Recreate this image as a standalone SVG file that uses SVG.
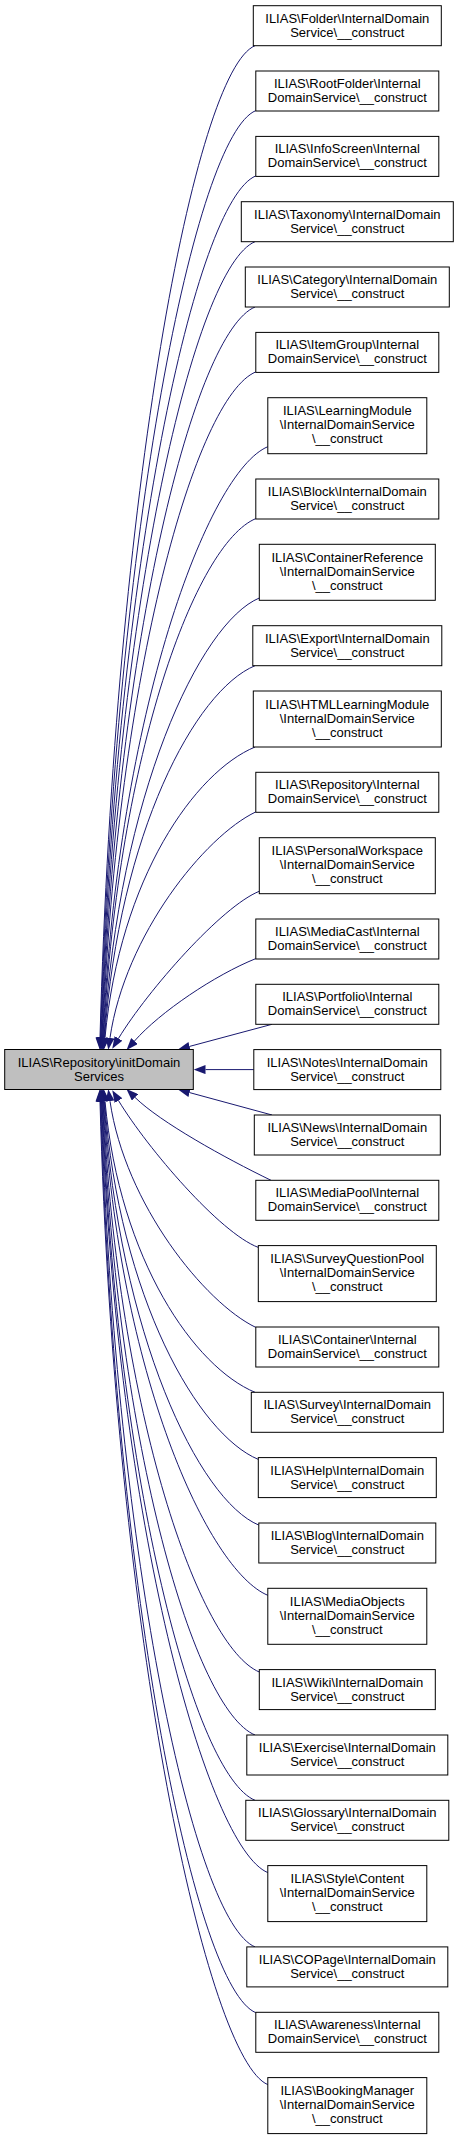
<svg xmlns="http://www.w3.org/2000/svg" width="459" height="2139" viewBox="0 0 459 2139">
<style>
.node rect{fill:#ffffff;stroke:#000000;stroke-width:1}
#n0 rect{fill:#bfbfbf}
.node text{font-family:"Liberation Sans",Arial,Helvetica,sans-serif;font-size:13px;text-anchor:middle;fill:#000000}
.edge{fill:none;stroke:#191970;stroke-width:1;marker-end:url(#arr)}
</style>
<defs>
<marker id="arr" markerUnits="userSpaceOnUse" markerWidth="12" markerHeight="9" viewBox="0 0 12 9" refX="0" refY="4.5" orient="auto"><path d="M0,0 L12,4.5 L0,9 Z" fill="#191970"/></marker>
</defs>
<rect width="459" height="2139" fill="#ffffff"/>
<g id="edges">
<path class="edge" d="M255,45.7 C195,70.7 115,492 100,1037.5"/>
<path class="edge" d="M255.8,110.6 C195.8,135.6 115.5,527.7 100.5,1037.5"/>
<path class="edge" d="M255.8,175.9 C195.8,200.9 116,563.6 101,1037.5"/>
<path class="edge" d="M255,241.7 C195,266.7 116.5,599.8 101.5,1037.5"/>
<path class="edge" d="M255,307 C195,332 117,635.7 102,1037.5"/>
<path class="edge" d="M255.8,371.9 C195.8,396.9 117.5,671.4 102.5,1037.5"/>
<path class="edge" d="M267.8,446.7 C207.8,471.7 118,712.6 103,1037.5"/>
<path class="edge" d="M255.8,518.6 C195.8,543.6 118.5,752.1 103.5,1037.5"/>
<path class="edge" d="M259.5,597.9 C199.5,622.9 119,795.7 104,1037.5"/>
<path class="edge" d="M255,665.7 C195,690.7 119.5,833 104.5,1037.5"/>
<path class="edge" d="M255,747 C195,772 120,877.7 105,1037.5"/>
<path class="edge" d="M255.8,811.9 C205,836 125,935 110,1037.8"/>
<path class="edge" d="M259.5,891.2 C222,906 148,990 118.5,1038.4"/>
<path class="edge" d="M255.8,958.6 C215,975 160,1012 134.5,1041"/>
<path class="edge" d="M272,1024.3 L189.6,1046.4"/>
<path class="edge" d="M253.8,1069.6 L205.5,1069.6"/>
<path class="edge" d="M272,1115 L189.6,1092.6"/>
<path class="edge" d="M271,1180.3 C225,1158 160,1122 135,1097.4"/>
<path class="edge" d="M258.3,1247.4 C220,1233 148,1149 118.5,1100.6"/>
<path class="edge" d="M255.8,1327.4 C205,1303 125,1204 110,1101.2"/>
<path class="edge" d="M255,1392.3 C195,1367.3 120,1261.4 105,1101.5"/>
<path class="edge" d="M258.3,1459.4 C198.3,1434.4 119.5,1298.3 104.5,1101.5"/>
<path class="edge" d="M258.8,1525.1 C198.8,1500.1 119,1334.5 104,1101.5"/>
<path class="edge" d="M267.8,1595.3 C207.8,1570.3 118.5,1373.1 103.5,1101.5"/>
<path class="edge" d="M259.5,1672.1 C199.5,1647.1 118,1415.3 103,1101.5"/>
<path class="edge" d="M255,1735 C195,1710 117.5,1449.9 102.5,1101.5"/>
<path class="edge" d="M255,1800.3 C195,1775.3 117,1485.8 102,1101.5"/>
<path class="edge" d="M267.8,1872.6 C207.8,1847.6 116.5,1525.6 101.5,1101.5"/>
<path class="edge" d="M255,1946.9 C195,1921.9 116,1566.5 101,1101.5"/>
<path class="edge" d="M255.8,2012.7 C195.8,1987.7 115.5,1602.7 100.5,1101.5"/>
<path class="edge" d="M267.8,2084.6 C207.8,2059.6 115,1642.2 100,1101.5"/>
</g>
<g id="n0" class="node"><rect x="4.7" y="1049.5" width="188.6" height="40"/><text x="99" y="1066.5">ILIAS\Repository\initDomain</text><text x="99" y="1080.5">Services</text></g>
<g id="n1" class="node"><rect x="253.3" y="5.7" width="188" height="40"/><text x="347.3" y="22.7">ILIAS\Folder\InternalDomain</text><text x="347.3" y="36.7">Service\__construct</text></g>
<g id="n2" class="node"><rect x="255.8" y="71" width="183" height="40"/><text x="347.3" y="88">ILIAS\RootFolder\Internal</text><text x="347.3" y="102">DomainService\__construct</text></g>
<g id="n3" class="node"><rect x="255.8" y="136.4" width="183" height="40"/><text x="347.3" y="153.4">ILIAS\InfoScreen\Internal</text><text x="347.3" y="167.4">DomainService\__construct</text></g>
<g id="n4" class="node"><rect x="241.3" y="201.7" width="212" height="40"/><text x="347.3" y="218.7">ILIAS\Taxonomy\InternalDomain</text><text x="347.3" y="232.7">Service\__construct</text></g>
<g id="n5" class="node"><rect x="245.3" y="267" width="204" height="40"/><text x="347.3" y="284">ILIAS\Category\InternalDomain</text><text x="347.3" y="298">Service\__construct</text></g>
<g id="n6" class="node"><rect x="255.8" y="332.4" width="183" height="40"/><text x="347.3" y="349.4">ILIAS\ItemGroup\Internal</text><text x="347.3" y="363.4">DomainService\__construct</text></g>
<g id="n7" class="node"><rect x="267.8" y="397.7" width="159" height="56"/><text x="347.3" y="415.2">ILIAS\LearningModule</text><text x="347.3" y="429.2">\InternalDomainService</text><text x="347.3" y="443.2">\__construct</text></g>
<g id="n8" class="node"><rect x="255.8" y="479" width="183" height="40"/><text x="347.3" y="496">ILIAS\Block\InternalDomain</text><text x="347.3" y="510">Service\__construct</text></g>
<g id="n9" class="node"><rect x="259.3" y="544.3" width="176" height="56"/><text x="347.3" y="561.8">ILIAS\ContainerReference</text><text x="347.3" y="575.8">\InternalDomainService</text><text x="347.3" y="589.8">\__construct</text></g>
<g id="n10" class="node"><rect x="252.8" y="625.7" width="189" height="40"/><text x="347.3" y="642.7">ILIAS\Export\InternalDomain</text><text x="347.3" y="656.7">Service\__construct</text></g>
<g id="n11" class="node"><rect x="253.3" y="691" width="188" height="56"/><text x="347.3" y="708.5">ILIAS\HTMLLearningModule</text><text x="347.3" y="722.5">\InternalDomainService</text><text x="347.3" y="736.5">\__construct</text></g>
<g id="n12" class="node"><rect x="255.8" y="772.3" width="183" height="40"/><text x="347.3" y="789.3">ILIAS\Repository\Internal</text><text x="347.3" y="803.3">DomainService\__construct</text></g>
<g id="n13" class="node"><rect x="259.3" y="837.7" width="176" height="56"/><text x="347.3" y="855.2">ILIAS\PersonalWorkspace</text><text x="347.3" y="869.2">\InternalDomainService</text><text x="347.3" y="883.2">\__construct</text></g>
<g id="n14" class="node"><rect x="255.8" y="919" width="183" height="40"/><text x="347.3" y="936">ILIAS\MediaCast\Internal</text><text x="347.3" y="950">DomainService\__construct</text></g>
<g id="n15" class="node"><rect x="255.8" y="984.3" width="183" height="40"/><text x="347.3" y="1001.3">ILIAS\Portfolio\Internal</text><text x="347.3" y="1015.3">DomainService\__construct</text></g>
<g id="n16" class="node"><rect x="253.8" y="1049.6" width="187" height="40"/><text x="347.3" y="1066.6">ILIAS\Notes\InternalDomain</text><text x="347.3" y="1080.6">Service\__construct</text></g>
<g id="n17" class="node"><rect x="254.3" y="1115" width="186" height="40"/><text x="347.3" y="1132">ILIAS\News\InternalDomain</text><text x="347.3" y="1146">Service\__construct</text></g>
<g id="n18" class="node"><rect x="255.8" y="1180.3" width="183" height="40"/><text x="347.3" y="1197.3">ILIAS\MediaPool\Internal</text><text x="347.3" y="1211.3">DomainService\__construct</text></g>
<g id="n19" class="node"><rect x="258.3" y="1245.6" width="178" height="56"/><text x="347.3" y="1263.1">ILIAS\SurveyQuestionPool</text><text x="347.3" y="1277.1">\InternalDomainService</text><text x="347.3" y="1291.1">\__construct</text></g>
<g id="n20" class="node"><rect x="255.8" y="1327" width="183" height="40"/><text x="347.3" y="1344">ILIAS\Container\Internal</text><text x="347.3" y="1358">DomainService\__construct</text></g>
<g id="n21" class="node"><rect x="251.3" y="1392.3" width="192" height="40"/><text x="347.3" y="1409.3">ILIAS\Survey\InternalDomain</text><text x="347.3" y="1423.3">Service\__construct</text></g>
<g id="n22" class="node"><rect x="258.3" y="1457.6" width="178" height="40"/><text x="347.3" y="1474.6">ILIAS\Help\InternalDomain</text><text x="347.3" y="1488.6">Service\__construct</text></g>
<g id="n23" class="node"><rect x="258.8" y="1523" width="177" height="40"/><text x="347.3" y="1540">ILIAS\Blog\InternalDomain</text><text x="347.3" y="1554">Service\__construct</text></g>
<g id="n24" class="node"><rect x="267.8" y="1588.3" width="159" height="56"/><text x="347.3" y="1605.8">ILIAS\MediaObjects</text><text x="347.3" y="1619.8">\InternalDomainService</text><text x="347.3" y="1633.8">\__construct</text></g>
<g id="n25" class="node"><rect x="259.3" y="1669.6" width="176" height="40"/><text x="347.3" y="1686.6">ILIAS\Wiki\InternalDomain</text><text x="347.3" y="1700.6">Service\__construct</text></g>
<g id="n26" class="node"><rect x="246.8" y="1735" width="201" height="40"/><text x="347.3" y="1752">ILIAS\Exercise\InternalDomain</text><text x="347.3" y="1766">Service\__construct</text></g>
<g id="n27" class="node"><rect x="245.8" y="1800.3" width="203" height="40"/><text x="347.3" y="1817.3">ILIAS\Glossary\InternalDomain</text><text x="347.3" y="1831.3">Service\__construct</text></g>
<g id="n28" class="node"><rect x="267.8" y="1865.6" width="159" height="56"/><text x="347.3" y="1883.1">ILIAS\Style\Content</text><text x="347.3" y="1897.1">\InternalDomainService</text><text x="347.3" y="1911.1">\__construct</text></g>
<g id="n29" class="node"><rect x="246.8" y="1946.9" width="201" height="40"/><text x="347.3" y="1963.9">ILIAS\COPage\InternalDomain</text><text x="347.3" y="1977.9">Service\__construct</text></g>
<g id="n30" class="node"><rect x="255.8" y="2012.3" width="183" height="40"/><text x="347.3" y="2029.3">ILIAS\Awareness\Internal</text><text x="347.3" y="2043.3">DomainService\__construct</text></g>
<g id="n31" class="node"><rect x="267.8" y="2077.6" width="159" height="56"/><text x="347.3" y="2095.1">ILIAS\BookingManager</text><text x="347.3" y="2109.1">\InternalDomainService</text><text x="347.3" y="2123.1">\__construct</text></g>
</svg>
